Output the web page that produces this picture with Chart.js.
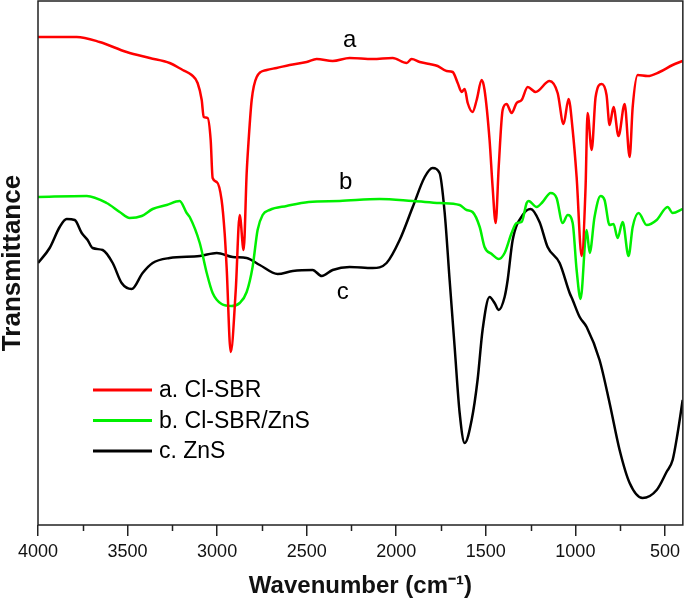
<!DOCTYPE html>
<html>
<head>
<meta charset="utf-8">
<script src="https://cdn.jsdelivr.net/npm/chart.js@4.4.1/dist/chart.umd.min.js"></script>
<style>
  html, body { margin: 0; padding: 0; background: #fff; }
  #wrap { width: 685px; height: 599px; }
</style>
</head>
<body>
<div id="wrap"><canvas id="ftir" width="685" height="599"></canvas></div>
<script>
// FTIR spectra (transmittance in arbitrary units)

// a. Cl-SBR
const redWn = [4000, 3784, 3656, 3505, 3376, 3265, 3192, 3142, 3109, 3086, 3075, 3053, 3036, 3025, 3002, 2975, 2958, 2947, 2924, 2896, 2874, 2852, 2835, 2824, 2807, 2779, 2723, 2668, 2595, 2500, 2444, 2355, 2260, 2132, 2020, 1942, 1914, 1869, 1814, 1769, 1719, 1685, 1657, 1635, 1618, 1601, 1574, 1551, 1523, 1507, 1479, 1462, 1445, 1428, 1406, 1384, 1356, 1328, 1300, 1266, 1222, 1144, 1099, 1066, 1038, 1015, 993, 965, 943, 932, 909, 887, 853, 826, 809, 787, 759, 725, 697, 680, 652, 597, 530, 457, 401];
const redT  = [488, 488, 483, 473, 467, 462, 455, 450, 442, 425, 408, 407, 385, 347, 343, 325, 292, 258, 173, 235, 310, 275, 352, 385, 425, 448, 455, 457, 460, 463, 466, 464, 467, 466, 467, 462, 466, 463, 461, 459, 454, 453, 442, 433, 436, 422, 413, 425, 445, 435, 385, 338, 302, 358, 415, 421, 412, 422, 425, 438, 433, 444, 432, 401, 426, 395, 348, 269, 338, 412, 375, 428, 441, 430, 400, 418, 389, 421, 368, 418, 450, 449, 453, 460, 464];

// b. Cl-SBR/ZnS
const greenWn = [4000, 3728, 3617, 3544, 3488, 3421, 3360, 3282, 3209, 3170, 3153, 3097, 3058, 3025, 2975, 2919, 2874, 2835, 2802, 2774, 2746, 2707, 2612, 2489, 2316, 2093, 1908, 1758, 1646, 1607, 1574, 1534, 1507, 1467, 1428, 1395, 1356, 1328, 1300, 1272, 1261, 1216, 1183, 1138, 1105, 1071, 1043, 1015, 993, 971, 937, 920, 893, 859, 837, 809, 787, 764, 736, 703, 680, 647, 602, 546, 485, 457, 401];
const greenT  = [328, 329, 322, 313, 307, 309, 316, 320, 324, 312, 308, 282, 252, 232, 221, 219, 222, 233, 258, 295, 310, 315, 319, 323, 324, 326, 324, 322, 320, 315, 313, 298, 278, 271, 266, 272, 292, 302, 303, 322, 324, 318, 323, 332, 327, 302, 310, 302, 255, 226, 295, 272, 308, 329, 325, 300, 301, 287, 303, 269, 298, 312, 300, 305, 318, 312, 316];

// c. ZnS
const blackWn = [4000, 3935, 3879, 3840, 3795, 3756, 3723, 3695, 3639, 3583, 3533, 3477, 3416, 3360, 3265, 3097, 3002, 2913, 2835, 2762, 2662, 2578, 2467, 2416, 2355, 2260, 2132, 2054, 1981, 1908, 1841, 1797, 1758, 1730, 1702, 1674, 1646, 1618, 1579, 1546, 1518, 1479, 1451, 1428, 1395, 1378, 1350, 1294, 1250, 1200, 1155, 1088, 1032, 1015, 976, 937, 865, 809, 753, 697, 625, 546, 491, 457, 429, 401];
const blackT  = [262, 277, 298, 306, 305, 292, 285, 277, 275, 262, 242, 236, 252, 262, 267, 269, 272, 268, 267, 260, 251, 254, 255, 249, 255, 258, 257, 262, 285, 318, 348, 357, 352, 313, 245, 178, 112, 82, 105, 145, 195, 228, 222, 215, 228, 245, 285, 310, 316, 303, 278, 262, 232, 225, 208, 198, 165, 122, 75, 42, 27, 35, 53, 65, 92, 125];

const seriesNames  = ['a. Cl-SBR', 'b. Cl-SBR/ZnS', 'c. ZnS'];
const seriesColors = ['#ff0000', '#00f000', '#000000'];

const xMajorTicks = [4000, 3500, 3000, 2500, 2000, 1500, 1000, 500];
const xMinorTicks = [3750, 3250, 2750, 2250, 1750, 1250, 750];

// curve letters placed in data coordinates (wavenumber, transmittance)
const curveLetters = ['a', 'b', 'c'];
const letterWn = [2260, 2282, 2299];
const letterT  = [485, 343, 233];

const FONT = '"Liberation Sans", Arial, sans-serif';

function toPoints(wn, t) {
  return wn.map((w, i) => ({ x: w, y: t[i] }));
}

// frame box + minor ticks + curve letters + legend
const decorations = {
  id: 'decorations',
  afterDatasetsDraw(chart) {
    const { ctx, chartArea: a, scales } = chart;
    const xs = scales.x, ys = scales.y;
    ctx.save();

    // box around the plot
    ctx.strokeStyle = '#222';
    ctx.lineWidth = 1.5;
    ctx.strokeRect(a.left, a.top, a.right - a.left, a.bottom - a.top);

    // minor ticks
    ctx.beginPath();
    xMinorTicks.forEach(v => {
      const px = Math.round(xs.getPixelForValue(v)) + 0.5;
      ctx.moveTo(px, a.bottom);
      ctx.lineTo(px, a.bottom + 6);
    });
    ctx.stroke();

    // letters next to curves
    ctx.fillStyle = '#000';
    ctx.font = '24px ' + FONT;
    ctx.textAlign = 'center';
    ctx.textBaseline = 'middle';
    curveLetters.forEach((s, i) => {
      ctx.fillText(s, xs.getPixelForValue(letterWn[i]), ys.getPixelForValue(letterT[i]));
    });

    // legend
    ctx.font = '23px ' + FONT;
    ctx.textAlign = 'left';
    chart.data.datasets.forEach((ds, i) => {
      const y = 390 + i * 30.5;
      ctx.strokeStyle = ds.borderColor;
      ctx.lineWidth = 3;
      ctx.beginPath();
      ctx.moveTo(93, y);
      ctx.lineTo(152, y);
      ctx.stroke();
      ctx.fillText(ds.label, 159, y + 1);
    });
    ctx.restore();
  }
};

const datasets = [
  { label: seriesNames[0], data: toPoints(redWn, redT),     borderColor: seriesColors[0] },
  { label: seriesNames[1], data: toPoints(greenWn, greenT), borderColor: seriesColors[1] },
  { label: seriesNames[2], data: toPoints(blackWn, blackT), borderColor: seriesColors[2] }
].map(d => Object.assign(d, {
  borderWidth: 2.5,
  pointRadius: 0,
  fill: false,
  cubicInterpolationMode: 'monotone'
}));

new Chart(document.getElementById('ftir'), {
  type: 'line',
  data: { datasets: datasets },
  plugins: [decorations],
  options: {
    responsive: false,
    animation: false,
    devicePixelRatio: 1,
    layout: { padding: { top: 1, right: 2, left: 0, bottom: 0 } },
    plugins: { legend: { display: false }, tooltip: { enabled: false } },
    scales: {
      x: {
        type: 'linear',
        reverse: true,
        min: 400,
        max: 4000,
        afterBuildTicks(scale) { scale.ticks = xMajorTicks.map(v => ({ value: v })); },
        afterFit(scale) { scale.height = 74; },
        ticks: {
          color: '#111',
          font: { family: FONT, size: 18 },
          padding: 5,
          maxRotation: 0,
          callback: v => String(v)
        },
        grid: { display: true, drawOnChartArea: false, drawTicks: true, tickLength: 11, color: '#222', lineWidth: 1.5 },
        border: { display: false },
        title: {
          display: true,
          text: 'Wavenumber (cm⁻¹)',
          color: '#111',
          font: { family: FONT, size: 24, weight: 'bold', lineHeight: 1 },
          padding: { top: 0, bottom: 1 }
        }
      },
      y: {
        min: 0,
        max: 524,
        afterFit(scale) { scale.width = 38; },
        ticks: { display: false },
        grid: { display: false },
        border: { display: false },
        title: {
          display: true,
          text: 'Transmittance',
          color: '#111',
          font: { family: FONT, size: 26, weight: 'bold', lineHeight: 1 },
          padding: { top: 0, bottom: 0 }
        }
      }
    }
  }
});
</script>
</body>
</html>
